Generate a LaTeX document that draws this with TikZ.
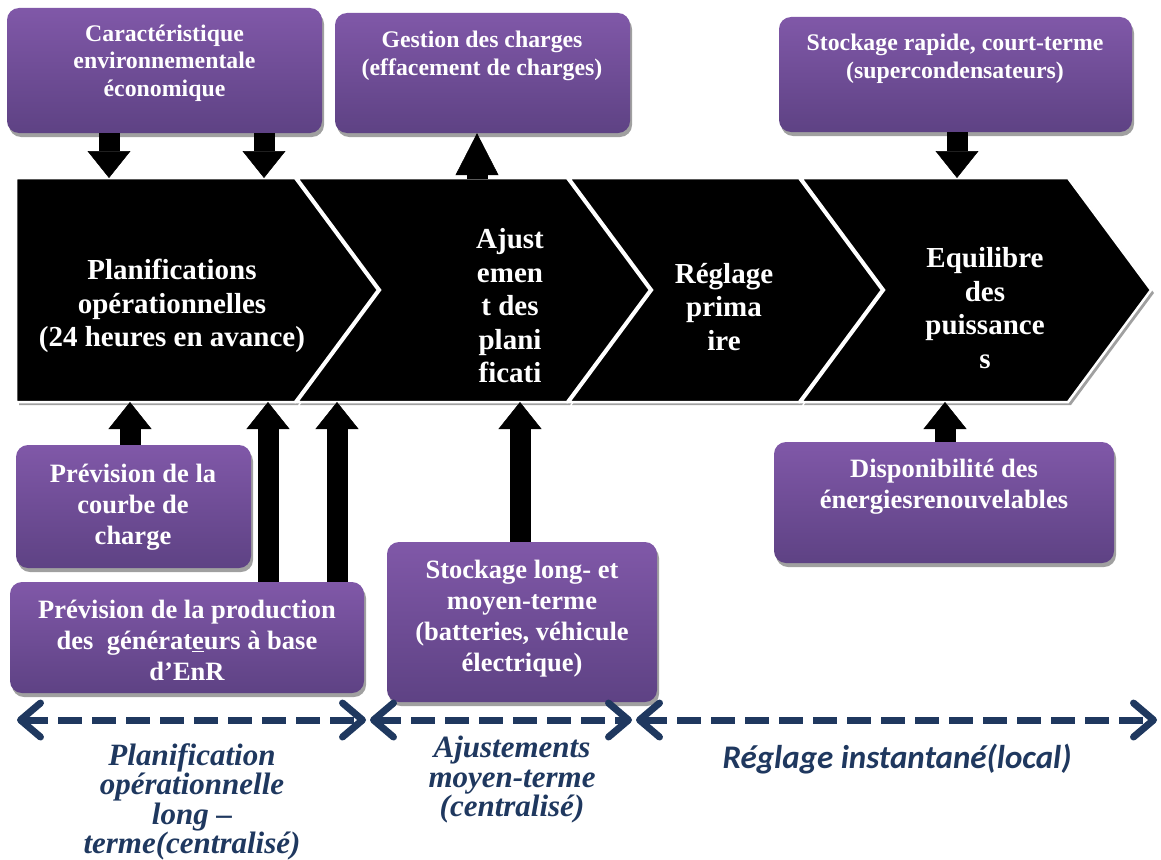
\documentclass[tikz,border=0pt]{standalone}
\usepackage{fontspec}
\setmainfont{Liberation Serif}
\newfontfamily\carl{Carlito}
\usetikzlibrary{arrows.meta,shadows}
\definecolor{boxtop}{RGB}{128,88,168}
\definecolor{boxbot}{RGB}{94,66,132}
\definecolor{navy}{RGB}{31,56,95}
\definecolor{shgray}{RGB}{160,160,160}
\tikzset{
  pbox/.style={rounded corners=12pt, top color=boxtop, bottom color=boxbot, draw=none, inner sep=0pt,
    drop shadow={shadow xshift=2pt,shadow yshift=-4pt,fill=shgray,opacity=1}},
  smalltext/.style={text=white, font=\bfseries\fontsize{23.8}{27.5}\selectfont, align=center, inner sep=0pt},
  midtext/.style={text=white, font=\bfseries\fontsize{26.5}{31}\selectfont, align=center, inner sep=0pt},
  chevtext/.style={text=white, font=\bfseries\fontsize{29}{33.5}\selectfont, align=center, inner sep=0pt},
  labeltext/.style={text=navy, font=\bfseries\itshape\fontsize{31}{29.5}\selectfont, align=center, inner sep=0pt},
  chev/.style={fill=black, draw=white, line width=2.5pt, line join=miter},
  chevshadow/.style={fill=shgray, draw=none},
  barrow/.style={draw=black, line width=21pt, -{Triangle[length=27pt,width=43pt,line width=0.5pt]}},
  darrow/.style={draw=navy, line width=7pt, dash pattern=on 24pt off 10pt,
    {Straight Barb[length=20pt,width=34pt,round]}-{Straight Barb[length=20pt,width=34pt,round]}}
}
\begin{document}
\begin{tikzpicture}[x=1pt,y=-1pt]
\useasboundingbox (0,0) rectangle (1161,859);

% ---- chevron band ----
\begin{scope}[shift={(3,3)}]
\fill[chevshadow] (16,178) -- (295,178) -- (378,290) -- (295,402) -- (16,402) -- cycle;
\fill[chevshadow] (297,178) -- (567,178) -- (650,290) -- (567,402) -- (297,402) -- (380,290) -- cycle;
\fill[chevshadow] (569,178) -- (799,178) -- (882,290) -- (799,402) -- (569,402) -- (652,290) -- cycle;
\fill[chevshadow] (801,178) -- (1068,178) -- (1151,290) -- (1068,402) -- (801,402) -- (884,290) -- cycle;
\end{scope}
\filldraw[chev] (16,178) -- (295,178) -- (378,290) -- (295,402) -- (16,402) -- cycle;
\filldraw[chev] (297,178) -- (567,178) -- (650,290) -- (567,402) -- (297,402) -- (380,290) -- cycle;
\filldraw[chev] (569,178) -- (799,178) -- (882,290) -- (799,402) -- (569,402) -- (652,290) -- cycle;
\filldraw[chev] (801,178) -- (1068,178) -- (1151,290) -- (1068,402) -- (801,402) -- (884,290) -- cycle;

\node[chevtext] (c1) at (172,306) {Planifications\\op\'erationnelles\\(24 heures en avance)};
\node[chevtext] (c2) at (510,306) {Ajust\\emen\\t des\\plani\\ficati};
\node[chevtext] (c3) at (724,307) {R\'eglage\\prima\\ire};
\node[chevtext] (c4) at (985,308) {Equilibre\\des\\puissance\\s};

% ---- purple boxes ----
\node[pbox, minimum width=315pt, minimum height=125pt] (A) at (164.5,70.5) {};
\node[pbox, minimum width=295pt, minimum height=120pt] (B) at (482.5,73) {};
\node[pbox, minimum width=353pt, minimum height=115pt] (C) at (955.5,74.5) {};
\node[pbox, minimum width=235pt, minimum height=123pt] (D) at (133.5,506.5) {};
\node[pbox, minimum width=354pt, minimum height=111pt] (E) at (187,637.5) {};
\node[pbox, minimum width=270pt, minimum height=160pt] (F) at (522,622) {};
\node[pbox, minimum width=340pt, minimum height=121pt] (G) at (944,502.5) {};

\node[smalltext] (At) at (164.5,63) {Caract\'eristique\\environnementale\\\'economique};
\node[smalltext] (Bt) at (482,56) {Gestion des charges\\(effacement de charges)};
\node[smalltext] (Ct) at (955,59) {Stockage rapide, court-terme\\(supercondensateurs)};
\node[midtext] (Dt) at (133,507) {Pr\'evision de la\\courbe de\\charge};
\node[midtext] (Et) at (187,640) {Pr\'evision de la production\\des\ \ g\'en\'erat\underline{e}urs \`a base\\d'EnR};
\node[midtext] (Ft) at (522,619) {Stockage long- et\\moyen-terme\\(batteries, v\'ehicule\\\'electrique)};
\node[midtext] (Gt) at (944,487) {Disponibilit\'e des\\\'energiesrenouvelables};

% ---- block arrows ----
\coordinate (t1) at (109,178);
\coordinate (t2) at (264,178);
\coordinate (s3) at (477,179);
\coordinate (t4) at (957,178);
\coordinate (t5) at (130,402);
\coordinate (t6) at (268,402);
\coordinate (t7) at (337,402);
\coordinate (t8) at (520,402);
\coordinate (t9) at (945,402);
\draw[barrow] (A.south -| t1) -- (t1);
\draw[barrow] (A.south -| t2) -- (t2);
\draw[draw=black, line width=21pt, -{Triangle[length=42pt,width=43pt,line width=0.5pt]}] (s3) -- (B.south -| s3);
\draw[barrow] (C.south -| t4) -- (t4);
\draw[barrow] (D.north -| t5) -- (t5);
\draw[barrow] (E.north -| t6) -- (t6);
\draw[barrow] (E.north -| t7) -- (t7);
\draw[barrow] (F.north -| t8) -- (t8);
\draw[barrow] (G.north -| t9) -- (t9);

% ---- time-scale arrows ----
\coordinate (d0) at (17,720);
\coordinate (d1) at (366,720);
\coordinate (d2) at (370,720);
\coordinate (d3) at (632,720);
\coordinate (d4) at (636,720);
\coordinate (d5) at (1157,720);
\draw[darrow] (d0) -- (d1);
\draw[darrow] (d2) -- (d3);
\draw[darrow] (d4) -- (d5);

\node[labeltext] (L1) at (192,802) {Planification\\op\'erationnelle\\long --\\terme(centralis\'e)};
\node[labeltext] (L2) at (512,780) {Ajustements\\moyen-terme\\(centralis\'e)};
\node[text=navy, font=\carl\bfseries\itshape\fontsize{33}{36}\selectfont, inner sep=0pt] (L3) at (897,759) {R\'eglage instantan\'e(local)};
\end{tikzpicture}
\end{document}
